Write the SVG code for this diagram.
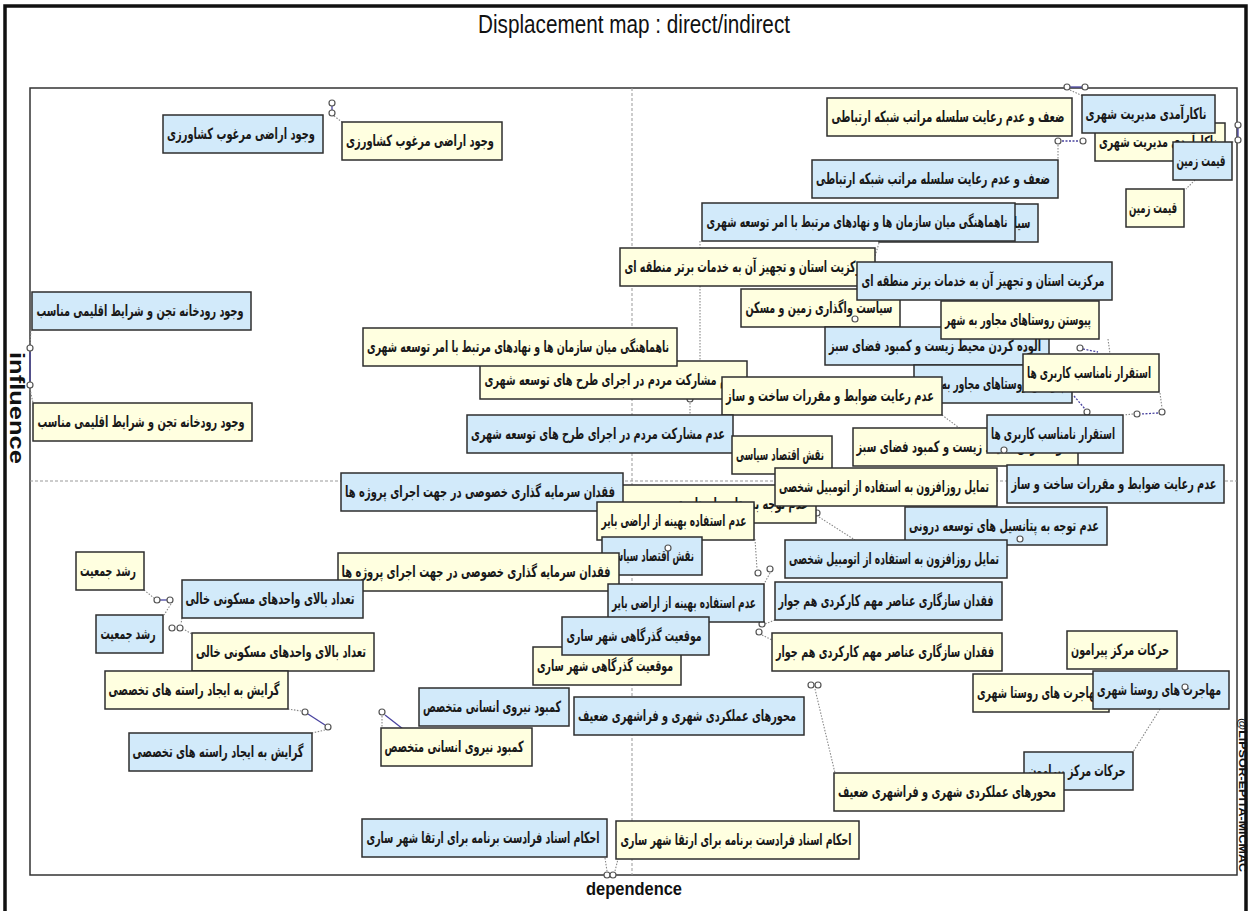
<svg xmlns="http://www.w3.org/2000/svg" width="1250" height="911" viewBox="0 0 1250 911">
<style>
.y rect{fill:#FFFFE0;stroke:#2e2e2e;stroke-width:1.5}
.b rect{fill:#D2EAFA;stroke:#2e2e2e;stroke-width:1.5}
.n text{font-family:"DejaVu Sans",sans-serif;font-size:15.5px;font-weight:bold;fill:#1a1a1a;text-anchor:middle;direction:rtl}
.dot{fill:none;stroke:#888;stroke-width:1.1;stroke-dasharray:1.5 1.5}
.sol{fill:none;stroke:#4a44a0;stroke-width:1.3}
.pdot{fill:none;stroke:#4a44a0;stroke-width:1.3;stroke-dasharray:2 1.5}
.end{fill:#fff;stroke:#555;stroke-width:1.2}
.mid{fill:none;stroke:#999;stroke-width:1;stroke-dasharray:3 2}
.lab{font-family:"Liberation Sans",Arial,sans-serif;fill:#111}
</style>
<rect x="0" y="0" width="1250" height="911" fill="#fff"/>
<path d="M5,912 V6 H1246 V912" fill="none" stroke="#111" stroke-width="3.5"/>
<text class="lab" x="634" y="33" font-size="25" text-anchor="middle" textLength="312" lengthAdjust="spacingAndGlyphs">Displacement map : direct/indirect</text>
<g id="frame">
<rect x="30" y="88" width="1207" height="787" fill="none" stroke="#333" stroke-width="1.5"/>
<line class="mid" x1="632" y1="88" x2="632" y2="875"/>
<line class="mid" x1="30" y1="481" x2="1237" y2="481"/>
</g>
<text class="lab" transform="translate(10,352) rotate(90)" font-size="20" font-weight="bold" textLength="112" lengthAdjust="spacingAndGlyphs">influence</text>
<text class="lab" x="586" y="895" font-size="19" font-weight="bold" textLength="96" lengthAdjust="spacingAndGlyphs">dependence</text>
<text class="lab" transform="translate(1239,718) rotate(90)" font-size="10" font-weight="bold" textLength="154" lengthAdjust="spacingAndGlyphs">@LIPSOR-EPITA-MICMAC</text>

<g id="connectors">
<line class="sol" x1="332" y1="106" x2="332" y2="110"/>
<line class="dot" x1="334" y1="116" x2="342" y2="122"/>
<line class="dot" x1="31" y1="330" x2="30" y2="345"/>
<line class="sol" x1="30" y1="352" x2="30" y2="381"/>
<line class="dot" x1="30" y1="389" x2="33" y2="403"/>
<line class="sol" x1="1070" y1="87" x2="1082" y2="87"/>
<line class="dot" x1="1070" y1="90" x2="1083" y2="96"/>
<line class="pdot" x1="1062" y1="141" x2="1079" y2="141"/>
<line class="dot" x1="1058" y1="145" x2="1058" y2="160"/>
<line class="sol" x1="1238" y1="128" x2="1238" y2="137"/>
<line class="dot" x1="1232" y1="142" x2="1236" y2="142"/>
<line class="dot" x1="1195" y1="180" x2="1186" y2="189"/>
<line class="dot" x1="879" y1="243" x2="857" y2="315"/>
<line class="dot" x1="700" y1="241" x2="700" y2="361"/>
<line class="dot" x1="690" y1="403" x2="690" y2="415"/>
<line class="pdot" x1="1083" y1="349" x2="1098" y2="352"/>
<line class="dot" x1="1108" y1="339" x2="1110" y2="354"/>
<line class="pdot" x1="1074" y1="396" x2="1085" y2="409"/>
<line class="dot" x1="1160" y1="393" x2="1162" y2="408"/>
<line class="pdot" x1="1158" y1="413" x2="1141" y2="414"/>
<line class="dot" x1="1133" y1="414" x2="1124" y2="415"/>
<line class="dot" x1="942" y1="415" x2="1010" y2="466"/>
<line class="dot" x1="819" y1="517" x2="855" y2="540"/>
<line class="dot" x1="755" y1="539" x2="757" y2="569"/>
<line class="dot" x1="770" y1="573" x2="764" y2="584"/>
<line class="dot" x1="775" y1="620" x2="765" y2="624"/>
<line class="dot" x1="762" y1="635" x2="772" y2="640"/>
<line class="dot" x1="815" y1="689" x2="835" y2="773"/>
<line class="dot" x1="605" y1="858" x2="607" y2="871"/>
<line class="dot" x1="615" y1="871" x2="618" y2="859"/>
<line class="dot" x1="1160" y1="709" x2="1133" y2="752"/>
<line class="dot" x1="382" y1="716" x2="382" y2="728"/>
<line class="sol" x1="385" y1="715" x2="403" y2="729"/>
<line class="dot" x1="144" y1="590" x2="154" y2="598"/>
<line class="sol" x1="160" y1="600" x2="167" y2="600"/>
<line class="dot" x1="171" y1="604" x2="164" y2="615"/>
<line class="dot" x1="182" y1="618" x2="181" y2="624"/>
<line class="dot" x1="185" y1="630" x2="192" y2="634"/>
<line class="dot" x1="288" y1="709" x2="301" y2="711"/>
<line class="sol" x1="308" y1="714" x2="325" y2="725"/>
<line class="dot" x1="325" y1="730" x2="312" y2="733"/>
<circle class="end" cx="332" cy="103" r="3"/><circle class="end" cx="332" cy="113" r="3"/>
<circle class="end" cx="30" cy="348" r="3"/><circle class="end" cx="30" cy="385" r="3"/>
<circle class="end" cx="1067" cy="87" r="3"/><circle class="end" cx="1085" cy="87" r="3"/>
<circle class="end" cx="1058" cy="141" r="3"/><circle class="end" cx="1083" cy="141" r="3"/>
<circle class="end" cx="1238" cy="125" r="3"/><circle class="end" cx="1238" cy="140" r="3"/>
<circle class="end" cx="690" cy="399" r="3"/>
<circle class="end" cx="1080" cy="348" r="3"/><circle class="end" cx="1087" cy="412" r="3"/>
<circle class="end" cx="1162" cy="412" r="3"/><circle class="end" cx="1137" cy="414" r="3"/>
<circle class="end" cx="817" cy="513" r="3"/>
<circle class="end" cx="758" cy="573" r="3"/><circle class="end" cx="770" cy="569" r="3"/>
<circle class="end" cx="762" cy="624" r="3"/><circle class="end" cx="759" cy="632" r="3"/>
<circle class="end" cx="811" cy="685" r="3"/><circle class="end" cx="818" cy="685" r="3"/>
<circle class="end" cx="607" cy="875" r="3"/><circle class="end" cx="613" cy="875" r="3"/>
<circle class="end" cx="382" cy="712" r="3"/><circle class="end" cx="407" cy="733" r="3"/>
<circle class="end" cx="157" cy="600" r="3"/><circle class="end" cx="170" cy="600" r="3"/>
<circle class="end" cx="172" cy="628" r="3"/><circle class="end" cx="180" cy="628" r="3"/>
<circle class="end" cx="305" cy="712" r="3"/><circle class="end" cx="328" cy="727" r="3"/>
</g>

<g class="n">
<g id="b1" class="b"><rect x="163" y="115" width="160" height="38"/><text x="241" y="139" textLength="148" lengthAdjust="spacingAndGlyphs">وجود اراضی مرغوب کشاورزی</text></g>
<g id="y1" class="y"><rect x="342" y="122" width="160" height="38"/><text x="420" y="146" textLength="148" lengthAdjust="spacingAndGlyphs">وجود اراضی مرغوب کشاورزی</text></g>
<g id="b2" class="b"><rect x="32" y="292" width="219" height="38"/><text x="140" y="316" textLength="207" lengthAdjust="spacingAndGlyphs">وجود رودخانه تجن و شرایط اقلیمی مناسب</text></g>
<g id="y2" class="y"><rect x="33" y="403" width="219" height="38"/><text x="141" y="427" textLength="207" lengthAdjust="spacingAndGlyphs">وجود رودخانه تجن و شرایط اقلیمی مناسب</text></g>
<g id="y3" class="y"><rect x="827" y="98" width="245" height="38"/><text x="948" y="122" textLength="233" lengthAdjust="spacingAndGlyphs">ضعف و عدم رعایت سلسله مراتب شبکه ارتباطی</text></g>
<g id="b3" class="b"><rect x="812" y="160" width="246" height="38"/><text x="933" y="184" textLength="234" lengthAdjust="spacingAndGlyphs">ضعف و عدم رعایت سلسله مراتب شبکه ارتباطی</text></g>
<g id="y4" class="y"><rect x="1095" y="123" width="130" height="38"/><text x="1158" y="147" textLength="118" lengthAdjust="spacingAndGlyphs">ناکارآمدی مدیریت شهری</text></g>
<g id="b4" class="b"><rect x="1082" y="95" width="133" height="38"/><text x="1146" y="119" textLength="121" lengthAdjust="spacingAndGlyphs">ناکارآمدی مدیریت شهری</text></g>
<g id="b5" class="b"><rect x="1173" y="142" width="59" height="38"/><text x="1201" y="166" textLength="49" lengthAdjust="spacingAndGlyphs">قیمت زمین</text></g>
<g id="y5" class="y"><rect x="1126" y="189" width="58" height="38"/><text x="1153" y="213" textLength="48" lengthAdjust="spacingAndGlyphs">قیمت زمین</text></g>
<g id="b6" class="b"><rect x="879" y="204" width="159" height="38"/><text x="957" y="228" textLength="147" lengthAdjust="spacingAndGlyphs">سیاست واگذاری زمین و مسکن</text></g>
<g id="b7" class="b"><rect x="702" y="203" width="313" height="38"/><text x="857" y="227" textLength="301" lengthAdjust="spacingAndGlyphs">ناهماهنگی میان سازمان ها و نهادهای مرتبط با امر توسعه شهری</text></g>
<g id="y8" class="y"><rect x="620" y="248" width="255" height="38"/><text x="746" y="272" textLength="243" lengthAdjust="spacingAndGlyphs">مرکزیت استان و تجهیز آن به خدمات برتر منطقه ای</text></g>
<g id="y6" class="y"><rect x="741" y="289" width="159" height="38"/><text x="819" y="313" textLength="147" lengthAdjust="spacingAndGlyphs">سیاست واگذاری زمین و مسکن</text></g>
<g id="b8" class="b"><rect x="857" y="262" width="255" height="38"/><text x="983" y="286" textLength="243" lengthAdjust="spacingAndGlyphs">مرکزیت استان و تجهیز آن به خدمات برتر منطقه ای</text></g>
<g id="b9" class="b"><rect x="825" y="327" width="224" height="38"/><text x="935" y="351" textLength="212" lengthAdjust="spacingAndGlyphs">آلوده کردن محیط زیست و کمبود فضای سبز</text></g>
<g id="y10" class="y"><rect x="941" y="301" width="158" height="38"/><text x="1018" y="325" textLength="146" lengthAdjust="spacingAndGlyphs">پیوستن روستاهای مجاور به شهر</text></g>
<g id="b10" class="b"><rect x="914" y="365" width="158" height="38"/><text x="991" y="389" textLength="146" lengthAdjust="spacingAndGlyphs">پیوستن روستاهای مجاور به شهر</text></g>
<g id="y11" class="y"><rect x="1023" y="354" width="136" height="38"/><text x="1089" y="378" textLength="124" lengthAdjust="spacingAndGlyphs">استقرار نامناسب کاربری ها</text></g>
<g id="y12" class="y"><rect x="480" y="361" width="267" height="38"/><text x="612" y="385" textLength="255" lengthAdjust="spacingAndGlyphs">عدم مشارکت مردم در اجرای طرح های توسعه شهری</text></g>
<g id="y7" class="y"><rect x="363" y="328" width="314" height="38"/><text x="518" y="352" textLength="302" lengthAdjust="spacingAndGlyphs">ناهماهنگی میان سازمان ها و نهادهای مرتبط با امر توسعه شهری</text></g>
<g id="y13" class="y"><rect x="722" y="377" width="220" height="38"/><text x="830" y="401" textLength="208" lengthAdjust="spacingAndGlyphs">عدم رعایت ضوابط و مقررات ساخت و ساز</text></g>
<g id="b12" class="b"><rect x="467" y="415" width="266" height="38"/><text x="598" y="439" textLength="254" lengthAdjust="spacingAndGlyphs">عدم مشارکت مردم در اجرای طرح های توسعه شهری</text></g>
<g id="y14" class="y"><rect x="732" y="436" width="100" height="38"/><text x="780" y="460" textLength="88" lengthAdjust="spacingAndGlyphs">نقش اقتصاد سیاسی</text></g>
<g id="y9" class="y"><rect x="853" y="428" width="225" height="38"/><text x="963" y="452" textLength="213" lengthAdjust="spacingAndGlyphs">آلوده کردن محیط زیست و کمبود فضای سبز</text></g>
<g id="b11" class="b"><rect x="987" y="415" width="136" height="38"/><text x="1053" y="439" textLength="124" lengthAdjust="spacingAndGlyphs">استقرار نامناسب کاربری ها</text></g>
<g id="b13" class="b"><rect x="1007" y="465" width="217" height="38"/><text x="1114" y="489" textLength="205" lengthAdjust="spacingAndGlyphs">عدم رعایت ضوابط و مقررات ساخت و ساز</text></g>
<g id="y16" class="y"><rect x="614" y="485" width="202" height="38"/><text x="713" y="509" textLength="190" lengthAdjust="spacingAndGlyphs">عدم توجه به پتانسیل های توسعه درونی</text></g>
<g id="y15" class="y"><rect x="775" y="468" width="222" height="38"/><text x="884" y="492" textLength="210" lengthAdjust="spacingAndGlyphs">تمایل روزافزون به استفاده از اتومبیل شخصی</text></g>
<g id="b17" class="b"><rect x="341" y="473" width="282" height="38"/><text x="480" y="497" textLength="270" lengthAdjust="spacingAndGlyphs">فقدان سرمایه گذاری خصوصی در جهت اجرای پروژه ها</text></g>
<g id="y18" class="y"><rect x="597" y="502" width="157" height="38"/><text x="674" y="526" textLength="145" lengthAdjust="spacingAndGlyphs">عدم استفاده بهینه از اراضی بایر</text></g>
<g id="b16" class="b"><rect x="905" y="507" width="202" height="38"/><text x="1004" y="531" textLength="190" lengthAdjust="spacingAndGlyphs">عدم توجه به پتانسیل های توسعه درونی</text></g>
<g id="b15" class="b"><rect x="785" y="540" width="222" height="38"/><text x="894" y="564" textLength="210" lengthAdjust="spacingAndGlyphs">تمایل روزافزون به استفاده از اتومبیل شخصی</text></g>
<g id="b14" class="b"><rect x="602" y="537" width="100" height="38"/><text x="650" y="561" textLength="88" lengthAdjust="spacingAndGlyphs">نقش اقتصاد سیاسی</text></g>
<g id="y17" class="y"><rect x="338" y="553" width="281" height="38"/><text x="476" y="577" textLength="269" lengthAdjust="spacingAndGlyphs">فقدان سرمایه گذاری خصوصی در جهت اجرای پروژه ها</text></g>
<g id="b19" class="b"><rect x="182" y="580" width="181" height="38"/><text x="270" y="604" textLength="169" lengthAdjust="spacingAndGlyphs">تعداد بالای واحدهای مسکونی خالی</text></g>
<g id="b18" class="b"><rect x="608" y="584" width="156" height="38"/><text x="684" y="608" textLength="144" lengthAdjust="spacingAndGlyphs">عدم استفاده بهینه از اراضی بایر</text></g>
<g id="b20" class="b"><rect x="775" y="582" width="227" height="38"/><text x="886" y="606" textLength="215" lengthAdjust="spacingAndGlyphs">فقدان سازگاری عناصر مهم کارکردی هم جوار</text></g>
<g id="y20" class="y"><rect x="772" y="633" width="230" height="38"/><text x="885" y="657" textLength="218" lengthAdjust="spacingAndGlyphs">فقدان سازگاری عناصر مهم کارکردی هم جوار</text></g>
<g id="y21" class="y"><rect x="533" y="647" width="148" height="38"/><text x="605" y="671" textLength="136" lengthAdjust="spacingAndGlyphs">موقعیت گذرگاهی شهر ساری</text></g>
<g id="b21" class="b"><rect x="562" y="617" width="147" height="38"/><text x="634" y="641" textLength="135" lengthAdjust="spacingAndGlyphs">موقعیت گذرگاهی شهر ساری</text></g>
<g id="y22" class="y"><rect x="76" y="552" width="68" height="38"/><text x="108" y="576" textLength="56" lengthAdjust="spacingAndGlyphs">رشد جمعیت</text></g>
<g id="b22" class="b"><rect x="96" y="615" width="67" height="38"/><text x="128" y="639" textLength="55" lengthAdjust="spacingAndGlyphs">رشد جمعیت</text></g>
<g id="y19" class="y"><rect x="192" y="633" width="182" height="38"/><text x="281" y="657" textLength="170" lengthAdjust="spacingAndGlyphs">تعداد بالای واحدهای مسکونی خالی</text></g>
<g id="y23" class="y"><rect x="105" y="671" width="183" height="38"/><text x="194" y="695" textLength="171" lengthAdjust="spacingAndGlyphs">گرایش به ایجاد راسته های تخصصی</text></g>
<g id="b23" class="b"><rect x="129" y="733" width="183" height="38"/><text x="218" y="757" textLength="171" lengthAdjust="spacingAndGlyphs">گرایش به ایجاد راسته های تخصصی</text></g>
<g id="b24" class="b"><rect x="419" y="688" width="150" height="38"/><text x="492" y="712" textLength="138" lengthAdjust="spacingAndGlyphs">کمبود نیروی انسانی متخصص</text></g>
<g id="y24" class="y"><rect x="381" y="728" width="151" height="38"/><text x="454" y="752" textLength="139" lengthAdjust="spacingAndGlyphs">کمبود نیروی انسانی متخصص</text></g>
<g id="b25" class="b"><rect x="574" y="697" width="230" height="38"/><text x="687" y="721" textLength="218" lengthAdjust="spacingAndGlyphs">محورهای عملکردی شهری و فراشهری ضعیف</text></g>
<g id="y26" class="y"><rect x="1067" y="631" width="110" height="38"/><text x="1120" y="655" textLength="98" lengthAdjust="spacingAndGlyphs">حرکات مرکز پیرامون</text></g>
<g id="y27" class="y"><rect x="973" y="674" width="136" height="38"/><text x="1039" y="698" textLength="124" lengthAdjust="spacingAndGlyphs">مهاجرت های روستا شهری</text></g>
<g id="b27" class="b"><rect x="1093" y="671" width="136" height="38"/><text x="1159" y="695" textLength="124" lengthAdjust="spacingAndGlyphs">مهاجرت های روستا شهری</text></g>
<g id="b26" class="b"><rect x="1024" y="752" width="109" height="38"/><text x="1077" y="776" textLength="97" lengthAdjust="spacingAndGlyphs">حرکات مرکز پیرامون</text></g>
<g id="y25" class="y"><rect x="834" y="773" width="230" height="38"/><text x="947" y="797" textLength="218" lengthAdjust="spacingAndGlyphs">محورهای عملکردی شهری و فراشهری ضعیف</text></g>
<g id="b28" class="b"><rect x="362" y="819" width="245" height="38"/><text x="483" y="843" textLength="233" lengthAdjust="spacingAndGlyphs">احکام اسناد فرادست برنامه برای ارتقا شهر ساری</text></g>
<g id="y28" class="y"><rect x="616" y="821" width="243" height="38"/><text x="736" y="845" textLength="231" lengthAdjust="spacingAndGlyphs">احکام اسناد فرادست برنامه برای ارتقا شهر ساری</text></g>
</g>

<g id="connector-ends">
<circle class="end" cx="855" cy="319" r="3"/>
<circle class="end" cx="668" cy="548" r="3"/>
<circle class="end" cx="1020" cy="539" r="3"/>
<circle class="end" cx="1004" cy="450" r="3"/>
<circle class="end" cx="1185" cy="687" r="3"/>
</g>
</svg>
